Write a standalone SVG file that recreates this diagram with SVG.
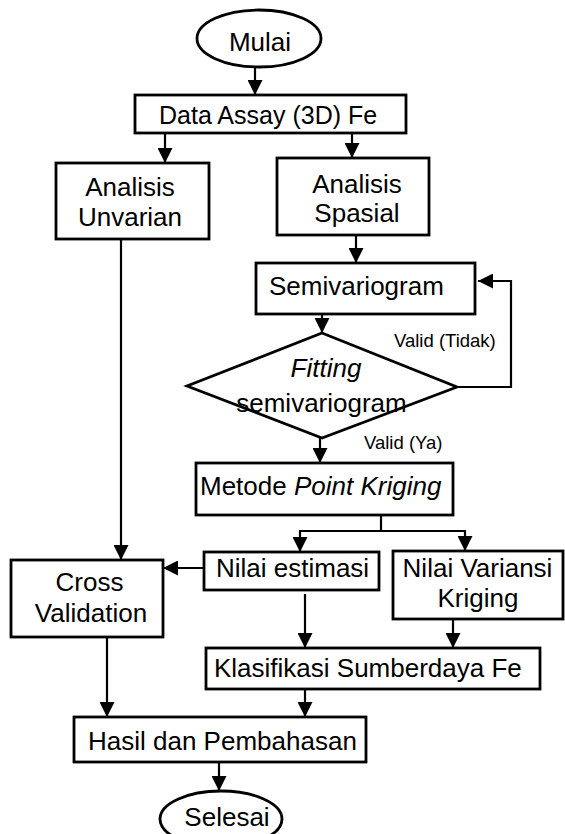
<svg xmlns="http://www.w3.org/2000/svg" width="565" height="834" viewBox="0 0 565 834">
<style>
.box{fill:#fff;stroke:#000;stroke-width:2.8}
.ln{fill:none;stroke:#000;stroke-width:2.2}
.t{font-family:"Liberation Sans",Arial,sans-serif;font-size:26px;fill:#000}
.s{font-family:"Liberation Sans",Arial,sans-serif;font-size:18.5px;fill:#000}
.i{font-style:italic}
</style>
<defs>
<marker id="ah" markerUnits="userSpaceOnUse" markerWidth="15" markerHeight="15" refX="15" refY="7.5" orient="auto">
<path d="M0,0 L15,7.5 L0,15 z" fill="#000"/>
</marker>
</defs>
<rect width="565" height="834" fill="#fff"/>
<g id="connectors">
<line class="ln" x1="255" y1="67" x2="255" y2="95" marker-end="url(#ah)"/>
<line class="ln" x1="165" y1="133" x2="165" y2="163" marker-end="url(#ah)"/>
<line class="ln" x1="352" y1="133" x2="352" y2="158" marker-end="url(#ah)"/>
<line class="ln" x1="356" y1="235" x2="356" y2="263" marker-end="url(#ah)"/>
<line class="ln" x1="322" y1="314" x2="322" y2="333" marker-end="url(#ah)"/>
<polyline class="ln" points="457,387 511,387 511,281 478,281" marker-end="url(#ah)"/>
<line class="ln" x1="320" y1="438" x2="320" y2="463" marker-end="url(#ah)"/>
<line class="ln" x1="381" y1="515" x2="381" y2="531"/>
<line class="ln" x1="299" y1="531" x2="466" y2="531"/>
<line class="ln" x1="300" y1="531" x2="300" y2="552" marker-end="url(#ah)"/>
<line class="ln" x1="465" y1="531" x2="465" y2="551" marker-end="url(#ah)"/>
<line class="ln" x1="204" y1="568" x2="163" y2="568" marker-end="url(#ah)"/>
<line class="ln" x1="121" y1="239" x2="121" y2="560" marker-end="url(#ah)"/>
<line class="ln" x1="305" y1="594" x2="305" y2="648" marker-end="url(#ah)"/>
<line class="ln" x1="453" y1="619" x2="453" y2="648" marker-end="url(#ah)"/>
<line class="ln" x1="107" y1="637" x2="107" y2="717" marker-end="url(#ah)"/>
<line class="ln" x1="305" y1="689" x2="305" y2="717" marker-end="url(#ah)"/>
<line class="ln" x1="219" y1="762" x2="219" y2="791" marker-end="url(#ah)"/>
<text class="s" x="394" y="347">Valid (Tidak)</text>
<text class="s" x="364" y="449">Valid (Ya)</text>
</g>
<g id="mulai">
<ellipse class="box" cx="259" cy="38.5" rx="62" ry="28.5"/>
<text class="t" x="260" y="51" text-anchor="middle">Mulai</text>
</g>
<g id="data-assay">
<rect class="box" x="135" y="95" width="271" height="38"/>
<text class="t" x="159" y="124" style="font-size:25px">Data Assay (3D) Fe</text>
</g>
<g id="analisis-unvarian">
<rect class="box" x="56" y="163" width="153" height="76"/>
<text class="t" x="130" y="196" text-anchor="middle">Analisis</text>
<text class="t" x="130" y="226" text-anchor="middle">Unvarian</text>
</g>
<g id="analisis-spasial">
<rect class="box" x="277" y="158" width="152" height="77"/>
<text class="t" x="357" y="193" text-anchor="middle">Analisis</text>
<text class="t" x="357" y="222" text-anchor="middle">Spasial</text>
</g>
<g id="semivariogram">
<rect class="box" x="256" y="263" width="219" height="51"/>
<text class="t" x="269" y="295">Semivariogram</text>
</g>
<g id="fitting">
<polygon class="box" points="322,333 457,387 322,438 187,386"/>
<text class="t i" x="326" y="377" text-anchor="middle">Fitting</text>
<text class="t" x="321.5" y="412" text-anchor="middle">semivariogram</text>
</g>
<g id="metode">
<rect class="box" x="196" y="463" width="257" height="52"/>
<text class="t" x="200" y="495">Metode <tspan class="i">Point Kriging</tspan></text>
</g>
<g id="nilai-estimasi">
<rect class="box" x="204" y="552" width="175" height="38"/>
<text class="t" x="216" y="577">Nilai estimasi</text>
</g>
<g id="nilai-variansi">
<rect class="box" x="393" y="551" width="170" height="68"/>
<text class="t" x="477.5" y="577" text-anchor="middle">Nilai Variansi</text>
<text class="t" x="478" y="607" text-anchor="middle">Kriging</text>
</g>
<g id="cross-validation">
<rect class="box" x="11" y="560" width="152" height="77"/>
<text class="t" x="89.5" y="591" text-anchor="middle">Cross</text>
<text class="t" x="91" y="622" text-anchor="middle">Validation</text>
</g>
<g id="klasifikasi">
<rect class="box" x="206" y="648" width="334" height="41"/>
<text class="t" x="214" y="677">Klasifikasi Sumberdaya Fe</text>
</g>
<g id="hasil">
<rect class="box" x="74" y="717" width="292" height="45"/>
<text class="t" x="88" y="750">Hasil dan Pembahasan</text>
</g>
<g id="selesai">
<ellipse class="box" cx="221" cy="819" rx="61" ry="28"/>
<text class="t" x="227" y="826" text-anchor="middle">Selesai</text>
</g>
</svg>
